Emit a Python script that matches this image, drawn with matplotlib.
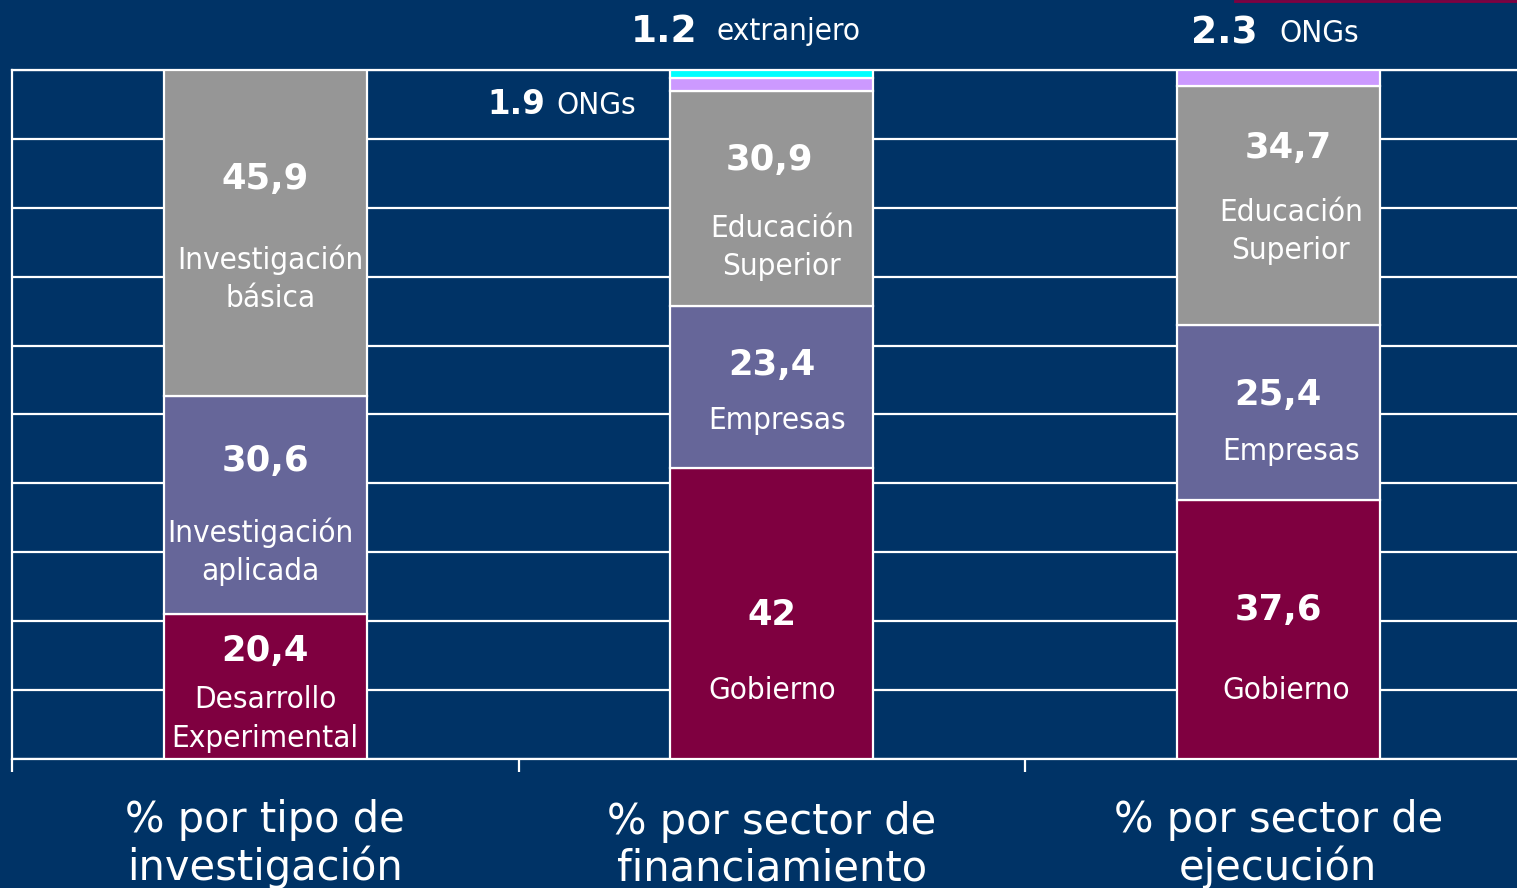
import matplotlib
matplotlib.use("Agg")
import matplotlib.pyplot as plt
from matplotlib import font_manager as fm
import numpy as np

# ---------------- data ----------------
categories = ["% por tipo de\ninvestigación", "% por sector de\nfinanciamiento", "% por sector de\nejecución"]

# stack order bottom -> top, one list per bar
bar1_values = [20.4, 30.6, 45.9]
bar1_labels = ["Desarrollo\nExperimental", "Investigación\naplicada", "Investigación\nbásica"]

bar2_values = [42.0, 23.4, 30.9, 1.9, 1.2]
bar2_labels = ["Gobierno", "Empresas", "Educación\nSuperior", "ONGs", "extranjero"]

bar3_values = [37.6, 25.4, 34.7, 2.3]
bar3_labels = ["Gobierno", "Empresas", "Educación\nSuperior", "ONGs"]

value_text1 = ["20,4", "30,6", "45,9"]
value_text2 = ["42", "23,4", "30,9", "1.9", "1.2"]
value_text3 = ["37,6", "25,4", "34,7", "2.3"]

# ---------------- style ----------------
BG = "#003366"
MAROON = "#7F0040"
PURPLE = "#666699"
GRAY = "#969696"
LAVENDER = "#CC99FF"
CYAN = "#00FFFF"
colors1 = [MAROON, PURPLE, GRAY]
colors2 = [MAROON, PURPLE, GRAY, LAVENDER, CYAN]
colors3 = [MAROON, PURPLE, GRAY, LAVENDER]

# narrow (Tahoma-like) font for labels
names = {f.name for f in fm.fontManager.ttflist}
cond = [f for f in fm.fontManager.ttflist if f.name == "DejaVu Sans" and "condensed" in str(f.stretch)]
lab_kw = {}
if "DejaVu Sans Condensed" in names:
    lab_kw = dict(family="DejaVu Sans Condensed")
elif cond:
    lab_kw = dict(family="DejaVu Sans", stretch="condensed")
elif "Liberation Sans Narrow" in names:
    lab_kw = dict(family="Liberation Sans Narrow")
else:
    lab_kw = dict(family="Noto Sans")

W, H = 1517, 888
fig = plt.figure(figsize=(W / 100, H / 100), dpi=100, facecolor=BG)

x0, ytop, ybot = 12, 70, 759
catw = 506.5
ax = fig.add_axes([x0 / W, (H - ybot) / H, 3 * catw / W, (ybot - ytop) / H])
ax.set_facecolor(BG)
ax.set_xlim(-0.5, 2.5)
ax.set_ylim(0, 100)

# grid
ax.set_yticks(np.arange(0, 101, 10))
ax.yaxis.grid(True, color="white", linewidth=1.6, zorder=0)
ax.set_axisbelow(True)
ax.tick_params(axis="y", left=False, labelleft=False)
ax.set_xticks([-0.5, 0.5, 1.5, 2.5])
ax.tick_params(axis="x", direction="out", length=9.5, width=1.6, color="white", labelbottom=False)
for s in ["left", "bottom", "top"]:
    ax.spines[s].set_color("white")
    ax.spines[s].set_linewidth(1.6)
ax.spines["right"].set_visible(False)

bw = 0.4
for xi, vals, cols in [(0, bar1_values, colors1), (1, bar2_values, colors2), (2, bar3_values, colors3)]:
    vals = np.array(vals)
    pct = vals / vals.sum() * 100
    bottom = 0
    for p, c in zip(pct, cols):
        ax.bar(xi, p, width=bw, bottom=bottom, color=c, edgecolor="white", linewidth=1.6, zorder=3)
        bottom += p

num_kw = dict(family="DejaVu Sans", weight="bold", color="white", ha="center", va="center", fontsize=25.5, zorder=5)
lkw = dict(color="white", ha="center", va="center", fontsize=22.5, linespacing=1.4, zorder=5, **lab_kw)

# bar 1 annotations
ax.text(0, 84.2, value_text1[2], **num_kw)
ax.text(0.01, 69.7, bar1_labels[2], **lkw)
ax.text(0, 43.3, value_text1[1], **num_kw)
ax.text(-0.01, 30.1, bar1_labels[1], **lkw)
ax.text(0, 15.7, value_text1[0], **num_kw)
ax.text(0, 5.8, bar1_labels[0], **lkw)

# bar 2 annotations
ax.text(0.995, 86.9, value_text2[2], **num_kw)
ax.text(1.02, 74.2, bar2_labels[2], **lkw)
ax.text(1.0, 57.2, value_text2[1], **num_kw)
ax.text(1.01, 49.2, bar2_labels[1], **lkw)
ax.text(1.0, 20.9, value_text2[0], **num_kw)
ax.text(1.0, 10.0, bar2_labels[0], **lkw)

# bar 3 annotations
ax.text(2.02, 88.7, value_text3[2], **num_kw)
ax.text(2.025, 76.6, bar3_labels[2], **lkw)
ax.text(2.0, 52.8, value_text3[1], **num_kw)
ax.text(2.025, 44.6, bar3_labels[1], **lkw)
ax.text(2.0, 21.6, value_text3[0], **num_kw)
ax.text(2.015, 9.9, bar3_labels[0], **lkw)

# outside small-segment annotations (figure pixel coords)
def fx(px):
    return px / W
def fy(py):
    return 1 - py / H

fig.text(fx(545), fy(105), value_text2[3], family="DejaVu Sans", weight="bold", color="white",
         fontsize=23.5, ha="right", va="center")
fig.text(fx(556), fy(105), bar2_labels[3], color="white", fontsize=22.5, ha="left", va="center", **lab_kw)
fig.text(fx(697), fy(32), value_text2[4], family="DejaVu Sans", weight="bold", color="white",
         fontsize=27, ha="right", va="center")
fig.text(fx(716), fy(32), bar2_labels[4], color="white", fontsize=22.5, ha="left", va="center", **lab_kw)
fig.text(fx(1258), fy(34), value_text3[3], family="DejaVu Sans", weight="bold", color="white",
         fontsize=27, ha="right", va="center")
fig.text(fx(1279), fy(34), bar3_labels[3], color="white", fontsize=22.5, ha="left", va="center", **lab_kw)

# category labels (last-line baseline)
for i, c in enumerate(categories):
    ax.text(i, -(880 - ybot) / (ybot - ytop), c, transform=ax.get_xaxis_transform(),
            family="DejaVu Sans", color="white", fontsize=30, ha="center", va="baseline",
            multialignment="center", linespacing=1.13, clip_on=False)

# thin maroon line at the top right edge
fig.add_artist(plt.Line2D([1235 / W, 1], [1 - 0.6 / H, 1 - 0.6 / H], transform=fig.transFigure,
                          color=MAROON, linewidth=2))

fig.savefig("out.png", dpi=100, facecolor=BG)
